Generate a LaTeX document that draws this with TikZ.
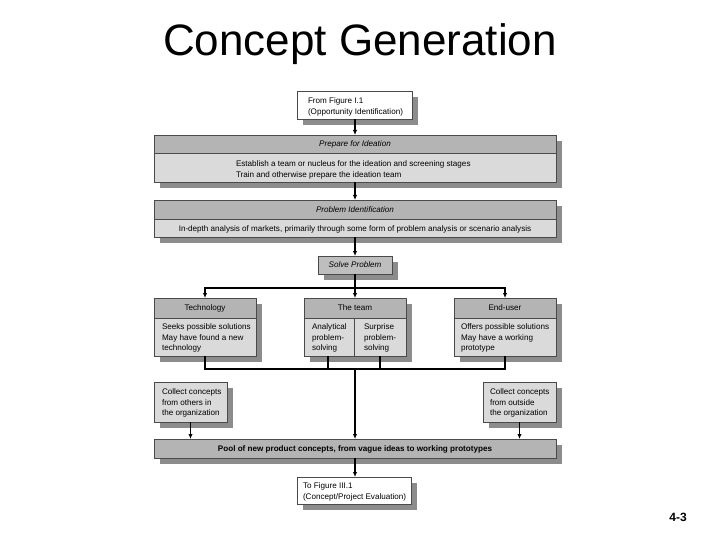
\documentclass[tikz,border=0pt]{standalone}
\usepackage{fontspec}
\setmainfont{Liberation Sans}
\usetikzlibrary{shadows,arrows.meta}
\definecolor{hdr}{HTML}{B4B4B4}
\definecolor{bdy}{HTML}{DADADA}
\definecolor{shd}{HTML}{8C8C8C}
\definecolor{slv}{HTML}{BEBEBE}
\definecolor{edge}{HTML}{4A4A4A}
\begin{document}
\begin{tikzpicture}[x=1pt,y=-1pt,
  every node/.style={font=\fontsize{8.1}{10.4}\selectfont, inner sep=0pt, outer sep=0pt},
  frame/.style={draw=edge, line width=0.6pt, anchor=north west, fill=bdy,
    drop shadow={shadow xshift=6pt, shadow yshift=-6pt, fill=shd, opacity=1}},
  hdrbox/.style={draw=edge, line width=0.6pt, anchor=north west, fill=hdr, text height=5.8pt, text depth=0pt},
  one/.style={text height=5.8pt, text depth=0pt},
  txt/.style={anchor=north west, align=left},
  arr/.style={-{Latex[length=5pt,width=4.5pt]}, line width=1.3pt},
  ln/.style={line width=1.3pt}]
\useasboundingbox (0,0) rectangle (720,540);
\fill[white] (0,0) rectangle (720,540);

% title
\node[font=\fontsize{44}{50}\selectfont, anchor=base] (title) at (360,56) {Concept Generation};
\node[font=\bfseries\fontsize{12}{14}\selectfont] (pagenum) at (678,517) {4-3};

% top box
\node[frame, fill=white, minimum width=115pt, minimum height=28pt] (fromfig) at (297,91) {};
\node[txt] (fromfigtx) at (308,98) {From Figure I.1\\(Opportunity Identification)};

% prepare for ideation
\node[frame, minimum width=402pt, minimum height=47pt] (prep) at (154,135) {};
\node[hdrbox, minimum width=402pt, minimum height=18pt] (prephd) at (154,135) {\itshape Prepare for Ideation};
\node[txt] (preptx) at (236,161) {Establish a team or nucleus for the ideation and screening stages\\Train and otherwise prepare the ideation team};

% problem identification
\node[frame, minimum width=402pt, minimum height=37pt] (probid) at (154,200) {};
\node[hdrbox, minimum width=402pt, minimum height=19pt] (probidhd) at (154,200) {\itshape Problem Identification};
\node[one] (probidtx) at (355,228.5) {In-depth analysis of markets, primarily through some form of problem analysis or scenario analysis};

% solve problem
\node[frame, fill=slv, minimum width=74pt, minimum height=18pt, one] (solve) at (318,256) {\itshape Solve Problem};

% three boxes
\node[frame, minimum width=102pt, minimum height=58pt] (tech) at (154,298) {};
\node[hdrbox, minimum width=102pt, minimum height=20pt] (techhd) at (154,298) {Technology};
\node[txt] (techtx) at (162,324) {Seeks possible solutions\\May have found a new\\technology};

\node[frame, minimum width=102pt, minimum height=58pt] (team) at (304,298) {};
\node[hdrbox, minimum width=102pt, minimum height=20pt] (teamhd) at (304,298) {The team};
\draw[edge, line width=0.6pt] (teamhd.south -| 354,0) -- (team.south -| 354,0);
\node[txt] (teamtxa) at (312,324) {Analytical\\problem-\\solving};
\node[txt] (teamtxb) at (364,324) {Surprise\\problem-\\solving};

\node[frame, minimum width=102pt, minimum height=58pt] (enduser) at (454,298) {};
\node[hdrbox, minimum width=102pt, minimum height=20pt] (enduserhd) at (454,298) {End-user};
\node[txt] (endusertx) at (461,324) {Offers possible solutions\\May have a working\\prototype};

% collect boxes
\node[frame, minimum width=73pt, minimum height=40pt] (collectL) at (154,382) {};
\node[txt] (collectLtx) at (162,389) {Collect concepts\\from others in\\the organization};
\node[frame, minimum width=73pt, minimum height=40pt] (collectR) at (483,382) {};
\node[txt] (collectRtx) at (490,389) {Collect concepts\\from outside\\the organization};

% pool
\node[frame, fill=hdr, minimum width=402pt, minimum height=19pt, one, font=\bfseries\fontsize{8.1}{10.4}\selectfont] (pool) at (154,439) {Pool of new product concepts, from vague ideas to working prototypes};

% bottom box
\node[frame, fill=white, minimum width=114pt, minimum height=27pt] (tofig) at (297,477) {};
\node[txt] (tofigtx) at (303,483) {To Figure III.1\\(Concept/Project Evaluation)};

% connectors
\draw[arr] (fromfig.south -| 355,0) -- (prep.north -| 355,0);
\draw[arr] (prep.south -| 355,0) -- (probid.north -| 355,0);
\draw[arr] (probid.south -| 355,0) -- (solve.north -| 355,0);
\coordinate (j1) at (355,288);
\draw[ln] (solve.south -| 355,0) -- (j1);
\draw[arr] (j1) -| (tech.north);
\draw[arr] (j1) -| (enduser.north);
\draw[arr] (j1) -- (team.north -| j1);

\coordinate (j2) at (355,369);
\coordinate (ta) at (328,356);
\coordinate (tb) at (380,356);
\draw[ln] (tech.south) |- (enduser.south |- j2) -- (enduser.south);
\draw[ln] (ta) -- (ta |- j2);
\draw[ln] (tb) -- (tb |- j2);
\draw[arr] (j2) -- (pool.north -| j2);
\draw[arr] (collectL.south) -- (collectL.south |- pool.north);
\draw[arr] (collectR.south) -- (collectR.south |- pool.north);
\draw[arr] (pool.south -| 355,0) -- (tofig.north -| 355,0);
\end{tikzpicture}
\end{document}
